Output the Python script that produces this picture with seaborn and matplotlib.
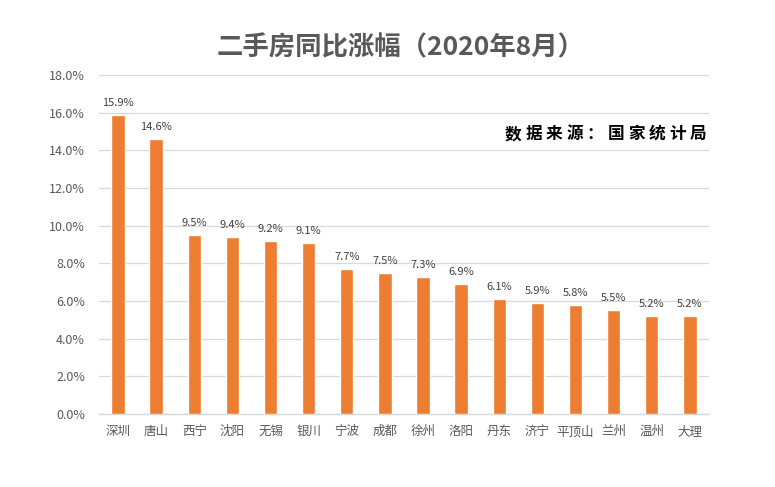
import matplotlib
matplotlib.use("Agg")
import matplotlib.pyplot as plt
import seaborn as sns
import pandas as pd
from matplotlib.ticker import FuncFormatter, MultipleLocator

cities = ["深圳", "唐山", "西宁", "沈阳", "无锡", "银川", "宁波", "成都", "徐州",
          "洛阳", "丹东", "济宁", "平顶山", "兰州", "温州", "大理"]
values = [15.9, 14.6, 9.5, 9.4, 9.2, 9.1, 7.7, 7.5, 7.3, 6.9, 6.1, 5.9, 5.8, 5.5, 5.2, 5.2]
title = "二手房同比涨幅（2020年8月）"
source = "数据来源：国家统计局"

sns.set_theme(style="white")
plt.rcParams['font.family'] = ['Noto Sans CJK SC', 'DejaVu Sans']

df = pd.DataFrame({"city": cities, "value": values})

fig = plt.figure(figsize=(7.75, 4.87), dpi=100)
ax = fig.add_axes([0.1277, 0.1499, 0.9148 - 0.1277, 0.846 - 0.1499])

sns.barplot(data=df, x="city", y="value", color="#ED7D31", width=0.35,
            saturation=1, ax=ax, zorder=3)

ax.set_ylim(0, 18)
ax.set_xlim(-0.5, len(cities) - 0.5)
ax.yaxis.set_major_locator(MultipleLocator(2))
ax.yaxis.set_major_formatter(FuncFormatter(lambda v, p: f"{v:.1f}%"))
ax.grid(axis="y", color="#D9D9D9", linewidth=0.9, zorder=0)
ax.set_axisbelow(True)
for s in ["top", "right", "left"]:
    ax.spines[s].set_visible(False)
ax.spines["bottom"].set_color("#D9D9D9")
ax.spines["bottom"].set_linewidth(1.0)
ax.tick_params(axis="both", length=0, colors="#595959", labelsize=9)
ax.tick_params(axis="x", pad=8)
ax.tick_params(axis="y", pad=10)
ax.set_xlabel("")
ax.set_ylabel("")

for c in ax.containers:
    ax.bar_label(c, labels=[f"{v:.1f}%" for v in values], padding=5,
                 fontsize=8, color="#404040")

fig.text(401 / 775, 1 - 48 / 487, title, ha="center", va="center", fontsize=19,
         color="#595959", fontweight="bold")

# source text, letter-spaced
x0, x1 = 513 / 775, 698 / 775
n = len(source)
for i, ch in enumerate(source):
    fig.text(x0 + (x1 - x0) * i / (n - 1), 1 - 134 / 487, ch, ha="center",
             va="center", fontsize=12, color="black", fontweight="bold")

fig.savefig("out.png", dpi=100)
